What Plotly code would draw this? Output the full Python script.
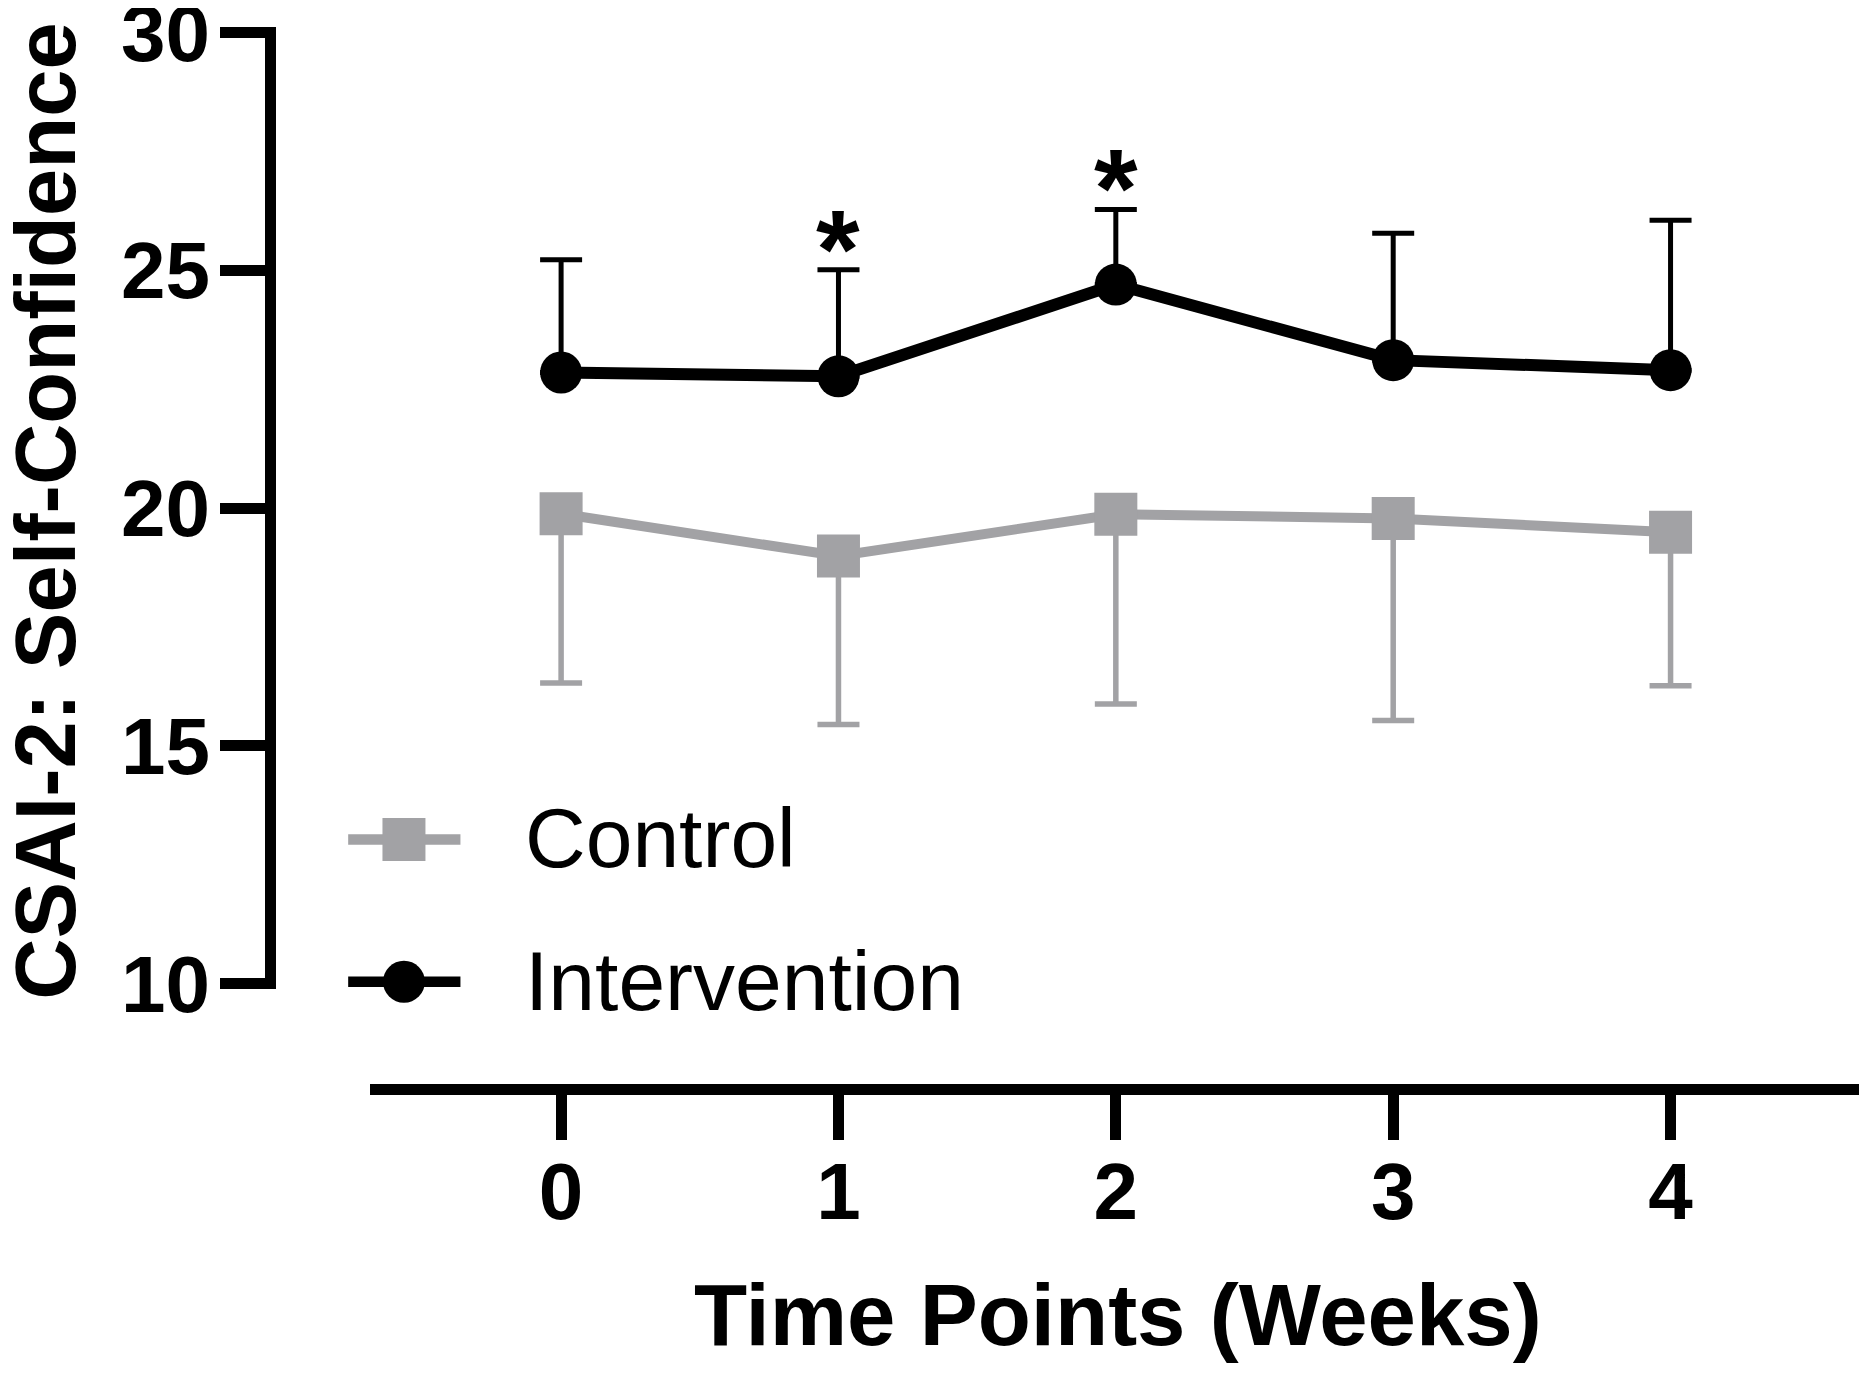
import plotly.graph_objects as go

# ---- data ----
weeks = [0, 1, 2, 3, 4]
tick_labels = ["0", "1", "2", "3", "4"]
intervention_mean = [22.85, 22.77, 24.70, 23.11, 22.90]
intervention_sd = [2.37, 2.24, 1.58, 2.67, 3.15]
control_mean = [19.88, 18.99, 19.87, 19.78, 19.49]
control_sd = [3.56, 3.54, 3.99, 4.25, 3.23]
significant_weeks = [1, 2]
y_ticks = [10, 15, 20, 25, 30]

FONT = "Liberation Sans, Arial, sans-serif"
GRAY = "#A2A2A5"
BLACK = "#000000"

# the page body adds an 8 px margin around the figure
OFF = 8
W_FIG, H_FIG = 1867 - OFF, 1373 - OFF
# layout targets in page pixels
L_PAGE, R_PAGE, T_PAGE, B_PAGE = 269.5, 1862, 26.5, 1089
L, R_EDGE, T, B = L_PAGE - OFF, R_PAGE - OFF, T_PAGE - OFF, B_PAGE - OFF
PW, PH = R_EDGE - L, B - T


def px(xp):
    """page x pixel -> paper fraction"""
    return (xp - OFF - L) / PW


def py(yp):
    """page y pixel -> paper fraction"""
    return (B - (yp - OFF)) / PH


fig = go.Figure()

fig.add_trace(go.Scatter(
    x=weeks, y=control_mean, name="Control", mode="lines+markers",
    line=dict(color=GRAY, width=10),
    marker=dict(symbol="square", size=43, color=GRAY),
    error_y=dict(type="data", symmetric=False, array=[0] * len(weeks),
                 arrayminus=control_sd, color=GRAY, thickness=5.5, width=21),
    showlegend=False,
))

fig.add_trace(go.Scatter(
    x=weeks, y=intervention_mean, name="Intervention", mode="lines+markers",
    line=dict(color=BLACK, width=12),
    marker=dict(symbol="circle", size=42, color=BLACK),
    error_y=dict(type="data", symmetric=False, array=intervention_sd,
                 arrayminus=[0] * len(weeks), color=BLACK, thickness=5, width=21),
    showlegend=False,
))

annotations = []
# significance asterisks above the intervention error bars
for wk in significant_weeks:
    i = weeks.index(wk)
    annotations.append(dict(
        x=wk, y=intervention_mean[i] + intervention_sd[i], xref="x", yref="y",
        text="*", showarrow=False, xanchor="center", yanchor="bottom", yshift=-44,
        font=dict(family=FONT, size=112, color=BLACK, weight="bold"),
    ))

# axis titles
annotations.append(dict(
    x=px(45), y=py(511), xref="paper", yref="paper", text="CSAI-2: Self-Confidence",
    textangle=-90, showarrow=False, xanchor="center", yanchor="middle",
    font=dict(family=FONT, size=85, color=BLACK, weight="bold"),
))
annotations.append(dict(
    x=px(1118), y=py(1315), xref="paper", yref="paper", text="Time Points (Weeks)",
    showarrow=False, xanchor="center", yanchor="middle",
    font=dict(family=FONT, size=87, color=BLACK, weight="bold"),
))

# legend (drawn by hand so the symbols keep the plot's size)
legend_items = [("Control", GRAY, "square", 839.3), ("Intervention", BLACK, "circle", 981.7)]
shapes = []
for label, col, sym, yc in legend_items:
    shapes.append(dict(type="line", xref="paper", yref="paper",
                       x0=px(347.7), x1=px(460), y0=py(yc), y1=py(yc),
                       line=dict(color=col, width=10.5)))
    half = 21.5 if sym == "square" else 21
    shapes.append(dict(type="rect" if sym == "square" else "circle",
                       xref="paper", yref="paper",
                       x0=px(403.5 - half), x1=px(403.5 + half),
                       y0=py(yc + half), y1=py(yc - half),
                       fillcolor=col, line=dict(width=0)))
    annotations.append(dict(
        x=px(523), y=py(yc - 1), xref="paper", yref="paper", text=label,
        showarrow=False, xanchor="left", yanchor="middle",
        font=dict(family=FONT, size=84, color=BLACK),
    ))

fig.update_layout(
    width=W_FIG, height=H_FIG,
    margin=dict(l=L, r=W_FIG - R_EDGE, t=T, b=H_FIG - B, autoexpand=False),
    paper_bgcolor="white", plot_bgcolor="white",
    showlegend=False,
    xaxis=dict(
        domain=[px(370), 1], anchor="free", position=0,
        range=[-0.6873, 4.6902], tickmode="array", tickvals=weeks, ticktext=tick_labels,
        showline=True, linewidth=11, linecolor=BLACK,
        ticks="outside", ticklen=45, tickwidth=11, tickcolor=BLACK,
        showgrid=False, zeroline=False, ticklabelstandoff=-17,
        tickfont=dict(family=FONT, size=80, color=BLACK, weight="bold"),
    ),
    yaxis=dict(
        domain=[py(989), 1], anchor="free", position=0,
        range=[9.884, 30.116], tickmode="array", tickvals=y_ticks,
        showline=True, linewidth=11, linecolor=BLACK,
        ticks="outside", ticklen=45, tickwidth=11, tickcolor=BLACK,
        showgrid=False, zeroline=False, ticklabeloverflow="allow", ticklabelstandoff=-6,
        tickfont=dict(family=FONT, size=80, color=BLACK, weight="bold"),
    ),
    annotations=annotations,
    shapes=shapes,
)

fig.write_html("out.html")
